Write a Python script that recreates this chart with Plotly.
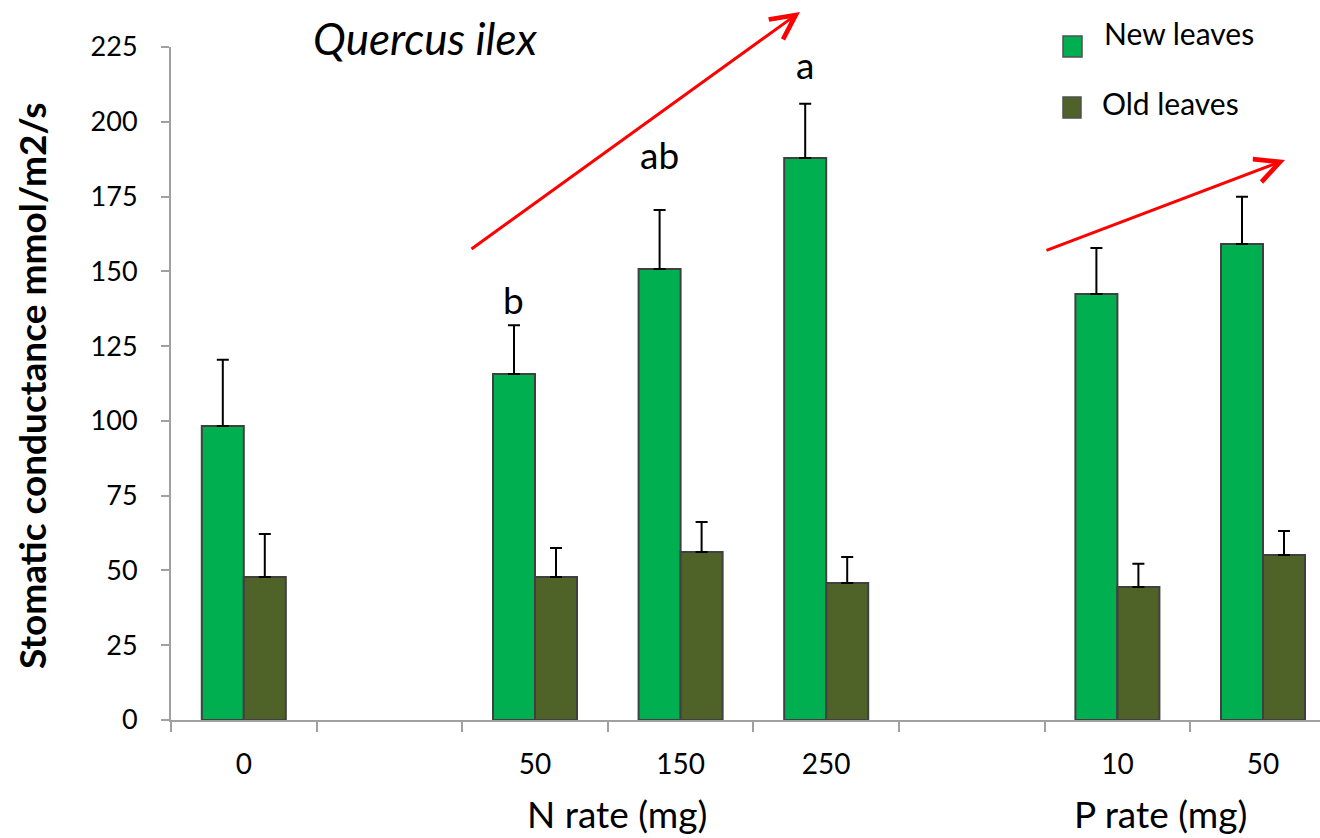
import plotly.graph_objects as go

# ---- data ----
categories = ["0", "", "50", "150", "250", "", "10", "50"]
new_leaves = [98.3, None, 115.7, 150.8, 187.9, None, 142.4, 159.1]
new_err = [22.1, None, 16.3, 19.7, 18.1, None, 15.4, 15.8]
old_leaves = [47.8, None, 47.8, 56.2, 45.8, None, 44.5, 55.2]
old_err = [14.4, None, 9.7, 10.0, 8.7, None, 7.7, 8.0]
letters = ["", "", "b", "ab", "a", "", "", ""]
y_ticks = [0, 25, 50, 75, 100, 125, 150, 175, 200, 225]

FONT = "Lato"
W, H = 1320, 838
L, R, T, B = 171, 0, 47, 118
PW = W - L - R
PH = H - T - B
slot_px = 145.6
x_end = -0.5 + PW / slot_px

pos = [i for i, c in enumerate(categories) if c != ""]
labels = [categories[i] for i in pos]

def pick(arr):
    return [arr[i] for i in pos]

fig = go.Figure()
fig.add_trace(go.Bar(
    x=pos, y=pick(new_leaves), name="New leaves",
    marker=dict(color="#00B050", line=dict(color="#404040", width=2)),
    error_y=dict(type="data", symmetric=False, array=pick(new_err),
                 arrayminus=[0] * len(pos), color="black", thickness=2, width=6),
))
fig.add_trace(go.Bar(
    x=pos, y=pick(old_leaves), name="Old leaves",
    marker=dict(color="#4F6228", line=dict(color="#404040", width=2)),
    error_y=dict(type="data", symmetric=False, array=pick(old_err),
                 arrayminus=[0] * len(pos), color="black", thickness=2, width=6),
))

def px2x(p):
    return (p - L) / slot_px - 0.5

def py2y(p):
    return ((H - B) - p) * 225 / PH

annotations = []
# significance letters
letter_y = {"b": 132.5, "ab": 181, "a": 211}
for i, c in enumerate(categories):
    if letters[i]:
        annotations.append(dict(
            x=i - 0.145, y=letter_y[letters[i]], xref="x", yref="y",
            text=letters[i], showarrow=False, yanchor="bottom", xanchor="center",
            font=dict(family=FONT, size=37, color="black")))

# trend arrows
for (x0, y0, x1, y1) in [(470, 250, 800, 12), (1045, 251, 1285, 160)]:
    annotations.append(dict(
        x=px2x(x1), y=py2y(y1), ax=px2x(x0), ay=py2y(y0),
        xref="x", yref="y", axref="x", ayref="y", text="",
        showarrow=True, arrowhead=5, arrowsize=1.6, arrowwidth=3,
        arrowcolor="#FF0000", standoff=0, startstandoff=0))

def paper_x(p):
    return (p - L) / PW

def paper_y(p):
    return (H - B - p) / PH

def txt(xp, yp, text, size, xanchor="center", angle=0):
    return dict(x=paper_x(xp), y=paper_y(yp), xref="paper", yref="paper",
                text=text, showarrow=False, xanchor=xanchor, yanchor="middle",
                textangle=angle, font=dict(family=FONT, size=size, color="black"))

annotations += [
    txt(425, 38, "<i>Quercus ilex</i>", 44),
    txt(31, 386, "<b>Stomatic conductance mmol/m2/s</b>", 37, angle=-90),
    txt(617, 813, "N rate (mg)", 37),
    txt(1160, 813, "P rate (mg)", 37),
    txt(1102, 33, "New leaves", 30, xanchor="left"),
    txt(1100, 103, "Old leaves", 30, xanchor="left"),
]

shapes = [
    dict(type="rect", xref="paper", yref="paper",
         x0=paper_x(1063), x1=paper_x(1082), y0=paper_y(57), y1=paper_y(36),
         fillcolor="#00B050", line=dict(color="#505050", width=1.5)),
    dict(type="rect", xref="paper", yref="paper",
         x0=paper_x(1063), x1=paper_x(1081), y0=paper_y(118), y1=paper_y(97),
         fillcolor="#4F6228", line=dict(color="#505050", width=1.5)),
]

fig.update_layout(
    width=W, height=H,
    margin=dict(l=L, r=R, t=T, b=B, autoexpand=False),
    paper_bgcolor="white", plot_bgcolor="white",
    barmode="group", bargap=0.423, bargroupgap=0,
    showlegend=False,
    font=dict(family=FONT, color="black"),
    annotations=annotations, shapes=shapes,
    xaxis=dict(
        range=[-0.5, x_end], tickmode="array", tickvals=pos, ticktext=labels,
        ticks="", showgrid=False, zeroline=False,
        showline=True, linecolor="#A0A0A0", linewidth=2,
        tickfont=dict(family=FONT, size=28, color="black"),
        ticklabelstandoff=18,
        minor=dict(tickmode="array",
                   tickvals=[i - 0.5 for i in range(len(categories) + 1)],
                   ticks="outside", ticklen=10, tickwidth=2, tickcolor="#A0A0A0"),
    ),
    yaxis=dict(
        range=[0, 225], tickmode="array", tickvals=y_ticks,
        ticks="outside", ticklen=8, tickwidth=2, tickcolor="#A0A0A0",
        showline=True, linecolor="#A0A0A0", linewidth=2,
        showgrid=False, zeroline=False,
        tickfont=dict(family=FONT, size=27, color="black"),
        ticklabelstandoff=18,
    ),
)

fig.write_html("out.html")
